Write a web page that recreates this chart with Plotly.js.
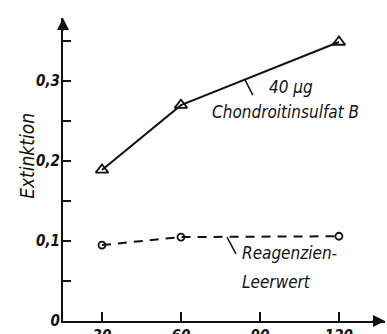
<!DOCTYPE html>
<html><head><meta charset="utf-8">
<script src="https://cdn.plot.ly/plotly-3.0.1.min.js"></script>
<style>html,body{margin:0;padding:0;background:#fff}#c{width:387px;height:334px}</style>
</head><body><div id="c"></div>
<script>
const xTime = [30, 60, 120];
const chondroitin = [0.189, 0.270, 0.349];
const blank = [0.095, 0.105, 0.106];
const xTickVals = [30, 60, 90, 120];
const xTickText = ['30', '60', '90', '120'];
const yTickVals = [0, 0.05, 0.1, 0.15, 0.2, 0.25, 0.3, 0.35];
const yTickText = ['0', '', '0,1', '', '0,2', '', '0,3', ''];

const FONT = '"DejaVu Sans Condensed", "Liberation Sans Narrow", sans-serif';
const ink = '#111';

const traces = [
  {x: xTime, y: chondroitin, mode: 'lines+markers', type: 'scatter',
   line: {color: ink, width: 2},
   marker: {symbol: 'triangle-up-open', size: 11, color: ink, line: {width: 1.8, color: ink}},
   cliponaxis: false, hoverinfo: 'skip'},
  {x: xTime, y: blank, mode: 'lines+markers', type: 'scatter',
   line: {color: ink, width: 2, dash: '9px,7px'},
   marker: {symbol: 'circle-open', size: 7, color: ink, line: {width: 1.8, color: ink}},
   cliponaxis: false, hoverinfo: 'skip'}
];

const tf = {family: FONT, size: 17, color: ink, style: 'italic'};
const tickf = {family: FONT, size: 15, color: ink, style: 'italic', weight: 'bold'};
const layout = {
  width: 387, height: 334,
  margin: {l: 63, r: 2, t: 18, b: 13},
  paper_bgcolor: '#fff', plot_bgcolor: '#fff',
  showlegend: false,
  xaxis: {range: [15.2, 137.5], showgrid: false, zeroline: false,
    showline: true, linecolor: ink, linewidth: 2,
    tickvals: xTickVals, ticktext: xTickText, ticks: 'inside', ticklen: 9, tickwidth: 1.5, tickcolor: ink,
    tickfont: tickf, fixedrange: true},
  yaxis: {range: [0, 0.379], showgrid: false, zeroline: false,
    showline: true, linecolor: ink, linewidth: 2,
    tickvals: yTickVals, ticktext: yTickText, ticks: 'inside', ticklen: 8, tickwidth: 1.5, tickcolor: ink,
    tickfont: tickf, ticklabelstandoff: -2, fixedrange: true},
  annotations: [
    {xref: 'paper', yref: 'paper', x: 0, y: 0.545, xanchor: 'center', yanchor: 'middle', xshift: -36,
     text: 'Extinktion', textangle: -90,
     showarrow: false, font: {family: FONT, size: 19, color: ink, style: 'italic'}},
    {x: 92.6, y: 0.2925, xanchor: 'left', yanchor: 'middle', text: '40 µg', showarrow: false, font: tf},
    {x: 71.0, y: 0.261, xanchor: 'left', yanchor: 'middle', text: 'Chondroitinsulfat B', showarrow: false, font: tf},
    {x: 82.4, y: 0.085, xanchor: 'left', yanchor: 'middle', text: 'Reagenzien-', showarrow: false, font: tf},
    {x: 82.4, y: 0.049, xanchor: 'left', yanchor: 'middle', text: 'Leerwert', showarrow: false, font: tf},
    {xref: 'paper', yref: 'paper', x: 1, y: 0, ax: -14, ay: 0, text: '',
     showarrow: true, arrowhead: 2, arrowsize: 1.2, arrowwidth: 2, arrowcolor: ink},
    {xref: 'paper', yref: 'paper', x: 0, y: 1, ax: 0, ay: 14, text: '',
     showarrow: true, arrowhead: 2, arrowsize: 1.2, arrowwidth: 2, arrowcolor: ink}
  ],
  shapes: [
    {type: 'line', x0: 84.3, y0: 0.302, x1: 87.3, y1: 0.2825, line: {color: ink, width: 1.5}},
    {type: 'line', x0: 77.5, y0: 0.105, x1: 80.9, y1: 0.084, line: {color: ink, width: 1.5}}
  ]
};
Plotly.newPlot('c', traces, layout, {staticPlot: true, displayModeBar: false});
</script></body></html>
